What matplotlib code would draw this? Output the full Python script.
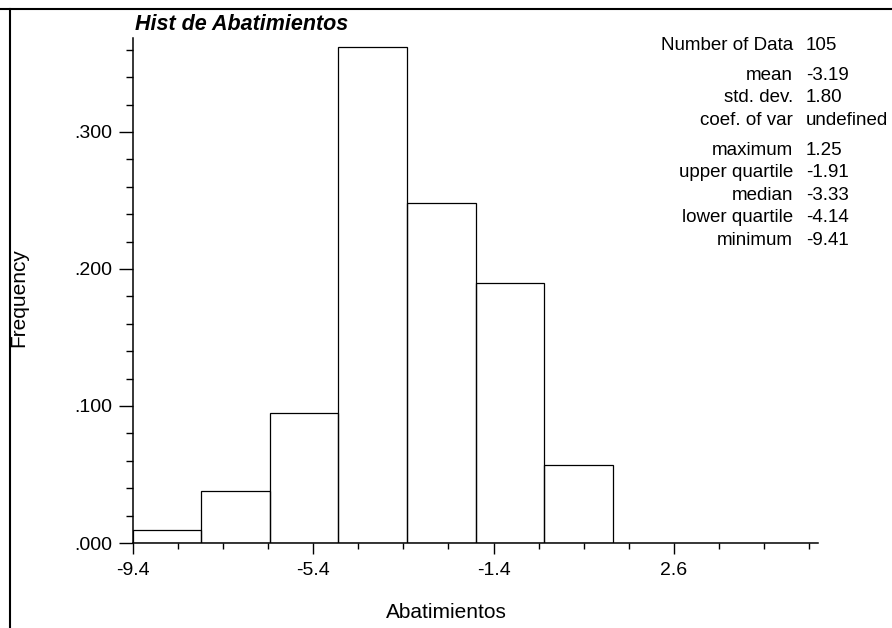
import matplotlib
matplotlib.use("Agg")
import matplotlib.pyplot as plt
from matplotlib.lines import Line2D
from matplotlib.ticker import FixedLocator

# ---- data ----
bin_edges = [-9.41, -7.887, -6.364, -4.841, -3.319, -1.796, -0.273, 1.25]
frequencies = [0.0095, 0.038, 0.095, 0.362, 0.248, 0.190, 0.057]
x_major = [-9.4, -5.4, -1.4, 2.6]
x_major_labels = ["-9.4", "-5.4", "-1.4", "2.6"]
x_minor = [-8.4, -7.4, -6.4, -4.4, -3.4, -2.4, -0.4, 0.6, 1.6, 3.6, 4.6, 5.6]
y_major = [0.0, 0.1, 0.2, 0.3]
y_major_labels = [".000", ".100", ".200", ".300"]
y_minor = [0.02, 0.04, 0.06, 0.08, 0.12, 0.14, 0.16, 0.18,
           0.22, 0.24, 0.26, 0.28, 0.32, 0.34, 0.36]
stat_labels = ["Number of Data", "mean", "std. dev.", "coef. of var",
               "maximum", "upper quartile", "median", "lower quartile", "minimum"]
stat_values = ["105", "-3.19", "1.80", "undefined",
               "1.25", "-1.91", "-3.33", "-4.14", "-9.41"]

plt.rcParams['font.family'] = ['Liberation Sans', 'DejaVu Sans']

W, H = 892, 628
fig = plt.figure(figsize=(W / 100, H / 100), dpi=100)
fig.patch.set_facecolor("white")

def fx(px):
    return px / W

def fy(py):
    return 1 - py / H

ax = fig.add_axes([fx(133), fy(543), fx(818) - fx(133), fy(38) - fy(543)])
ax.set_xlim(-9.4, 5.8)
ax.set_ylim(0, 0.3686)

widths = [b - a for a, b in zip(bin_edges[:-1], bin_edges[1:])]
ax.bar(bin_edges[:-1], frequencies, width=widths, align='edge',
       fill=False, edgecolor='black', linewidth=0.9)

for s in ['top', 'right']:
    ax.spines[s].set_visible(False)
for s in ['left', 'bottom']:
    ax.spines[s].set_linewidth(1.1)
    ax.spines[s].set_color('black')

ax.xaxis.set_major_locator(FixedLocator(x_major))
ax.set_xticklabels(x_major_labels)
ax.xaxis.set_minor_locator(FixedLocator(x_minor))
ax.yaxis.set_major_locator(FixedLocator(y_major))
ax.set_yticklabels(y_major_labels)
ax.yaxis.set_minor_locator(FixedLocator(y_minor))

ax.tick_params(axis='x', which='major', direction='out', length=8, width=1, pad=6, labelsize=14)
ax.tick_params(axis='x', which='minor', direction='out', length=4, width=1)
ax.tick_params(axis='y', which='major', direction='out', length=10, width=1, pad=5, labelsize=14)
ax.tick_params(axis='y', which='minor', direction='out', length=5, width=1)

# Title
fig.text(fx(135), fy(25), "Hist de Abatimientos", ha='left', va='center',
         fontsize=15.5, fontweight='bold', fontstyle='italic')

# Axis labels
fig.text(fx(446), fy(613), "Abatimientos", ha='center', va='center', fontsize=15)
fig.text(fx(19), fy(298), "Frequency", ha='center', va='center', rotation=90, fontsize=15)

# Stats block
stat_baselines = [50, 80, 102, 125, 155, 177, 200, 222, 245]
for lab, val, yb in zip(stat_labels, stat_values, stat_baselines):
    fig.text(fx(793), fy(yb), lab, ha='right', va='baseline', fontsize=13.5)
    fig.text(fx(806), fy(yb), val, ha='left', va='baseline', fontsize=13.5)

# Outer frame (left and top)
fig.add_artist(Line2D([fx(10), fx(10)], [0, fy(9)], transform=fig.transFigure,
                      color='black', linewidth=1.5))
fig.add_artist(Line2D([0, 1], [fy(9), fy(9)], transform=fig.transFigure,
                      color='black', linewidth=1.5))

fig.savefig("out.png", dpi=100, facecolor="white")
